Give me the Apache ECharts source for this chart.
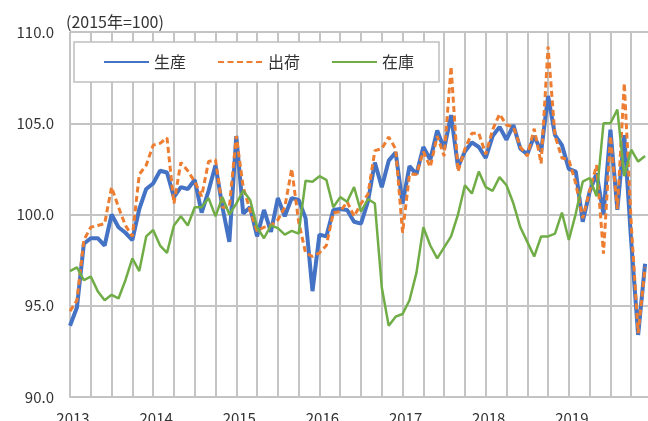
<!DOCTYPE html>
<html>
	<head>
		<meta charset="utf-8" />
		<script type="text/javascript" src="https://cdn.jsdelivr.net/npm/echarts@6.0.0/dist/echarts.min.js"></script>
		<title></title>
		<style>html, body { margin: 0; padding: 0; background: #fff; }</style>
	</head>
	<body>
		<div id="chartmain" style="width:648px; height: 421px;"></div>
		<script type="text/javascript">
// 2013/1 - 2019/12, monthly (2015 = 100)
var years = ['2013', '2014', '2015', '2016', '2017', '2018', '2019', '2020'];
var seriesNames = ['生産', '出荷', '在庫'];
var yTickValues = [90, 95, 100, 105, 110];
var unitLabel = '(2015年=100)';

var seisan = [
  93.9, 94.9, 98.4, 98.7, 98.7, 98.3, 100.0, 99.3, 99.0, 98.6, 100.3, 101.4,
  101.7, 102.4, 102.3, 100.95, 101.5, 101.4, 101.9, 100.1, 101.3, 102.7, 100.4, 98.5,
  104.3, 100.05, 100.4, 98.8, 100.25, 99.05, 100.9, 99.9, 100.9, 100.8, 99.8, 95.8,
  98.9, 98.8, 100.25, 100.3, 100.25, 99.6, 99.5, 100.7, 102.85, 101.5, 102.95, 103.4,
  100.6, 102.65, 102.2, 103.7, 103.0, 104.6, 103.6, 105.45, 102.6, 103.45, 103.95, 103.7,
  103.1, 104.3, 104.8, 104.1, 104.9, 103.6, 103.3, 104.3, 103.45, 106.5, 104.35, 103.8,
  102.5, 102.35, 99.6, 101.25, 102.25, 100.0, 104.65, 100.25, 104.35, 98.5, 93.4, 97.3
];
var shukka = [
  94.7, 95.3, 98.6, 99.3, 99.4, 99.5, 101.5, 100.4, 99.4, 98.8, 102.2, 102.7,
  103.8, 103.9, 104.2, 100.6, 102.85, 102.4, 101.8, 101.0, 102.9, 103.0, 100.4, 100.4,
  104.3, 101.5, 100.2, 99.1, 99.3, 99.4, 99.7, 100.4, 102.5, 99.6, 97.9, 97.7,
  97.9, 98.3, 100.1, 100.15, 100.7, 99.9, 100.6, 101.1, 103.5, 103.6, 104.25, 103.6,
  99.0, 102.2, 102.2, 103.45, 102.6, 104.3, 103.2, 108.1, 102.35, 103.6, 104.45, 104.45,
  103.3, 104.65, 105.5, 104.9, 104.8, 103.7, 103.2, 104.7, 102.8, 109.2, 104.3, 103.1,
  103.0, 101.7, 99.8, 101.3, 102.7, 97.85, 104.3, 100.3, 107.2, 99.5, 93.5, 97.1
];
var zaiko = [
  96.9, 97.1, 96.4, 96.6, 95.8, 95.3, 95.6, 95.4, 96.4, 97.6, 96.9, 98.8,
  99.15, 98.3, 97.9, 99.4, 99.9, 99.4, 100.4, 100.4, 100.9, 99.9, 100.95, 100.0,
  100.6, 101.3, 100.8, 99.3, 98.7, 99.4, 99.25, 98.9, 99.1, 98.95, 101.85, 101.8,
  102.1, 101.9, 100.4, 100.95, 100.7, 101.5, 100.15, 100.85, 100.6, 96.0, 93.9, 94.4,
  94.55, 95.3, 96.8, 99.3, 98.3, 97.6, 98.2, 98.8, 100.0, 101.6, 101.15, 102.35,
  101.5, 101.3, 102.05, 101.6, 100.6, 99.3, 98.5, 97.7, 98.8, 98.8, 98.95, 100.1,
  98.6, 100.05, 101.8, 102.0, 101.0, 105.0, 105.0, 105.75, 102.1, 103.55, 102.9, 103.2
];

// month categories, one extra (2020/1) so the plot runs past the right edge
var months = [];
years.forEach(function (y, k) {
  for (var m = 1; m <= 12; m++) {
    if (k === years.length - 1 && m > 1) break;
    months.push(y + '/' + m);
  }
});

var gridColor = '#c4c4c4';
var textColor = '#333';
var font = 'Noto Sans CJK JP';

option = {
  animation: false,
  textStyle: { fontFamily: font },
  title: {
    text: unitLabel,
    left: 66,
    top: 14,
    padding: 0,
    textStyle: { fontSize: 16, fontWeight: 'normal', color: textColor, fontFamily: font }
  },
  legend: {
    data: seriesNames,
    left: 74,
    top: 42,
    padding: [12, 25, 12, 29],
    itemGap: 31,
    itemWidth: 45,
    itemHeight: 14,
    backgroundColor: '#fff',
    borderColor: '#bfbfbf',
    borderWidth: 1.5,
    itemStyle: { opacity: 0 },   // line only, no dot in the middle
    textStyle: { fontSize: 16, lineHeight: 16, color: textColor, fontFamily: font }
  },
  grid: {
    left: 70,
    top: 32,
    width: 582,
    height: 365,
    containLabel: false,
    outerBoundsMode: 'none'
  },
  xAxis: {
    type: 'category',
    data: months,
    boundaryGap: false,
    axisLine: { lineStyle: { color: gridColor, width: 2 } },
    axisTick: { show: false },
    axisLabel: {
      interval: function (i) { return i % 12 === 0 && i < months.length - 1; },
      formatter: function (v) { return v.split('/')[0]; },
      margin: 14,
      padding: [0, 0, 0, 6],
      fontSize: 15,
      color: textColor,
      fontFamily: font
    },
    splitLine: {
      show: true,
      interval: function (i) { return i % 3 === 0; },
      lineStyle: { color: gridColor, width: 2 }
    }
  },
  yAxis: {
    type: 'value',
    min: yTickValues[0],
    max: yTickValues[yTickValues.length - 1],
    interval: yTickValues[1] - yTickValues[0],
    axisLine: { show: false },
    axisTick: { show: false },
    axisLabel: {
      formatter: function (v) { return v.toFixed(1); },
      margin: 16,
      fontSize: 15,
      color: textColor,
      fontFamily: font
    },
    splitLine: { lineStyle: { color: gridColor, width: 2 } }
  },
  series: [
    {
      name: seriesNames[0],
      type: 'line',
      data: seisan,
      symbol: 'none',
      color: '#4472C4',
      lineStyle: { color: '#4472C4', width: 4 }
    },
    {
      name: seriesNames[1],
      type: 'line',
      data: shukka,
      symbol: 'none',
      color: '#ED7D31',
      lineStyle: { color: '#ED7D31', width: 3, type: [6, 3.5] }
    },
    {
      name: seriesNames[2],
      type: 'line',
      data: zaiko,
      symbol: 'none',
      color: '#70AD47',
      lineStyle: { color: '#70AD47', width: 2.5 }
    }
  ]
};

var myChart = echarts.init(document.getElementById('chartmain'));
myChart.setOption(option);
		</script>
	</body>
</html>
